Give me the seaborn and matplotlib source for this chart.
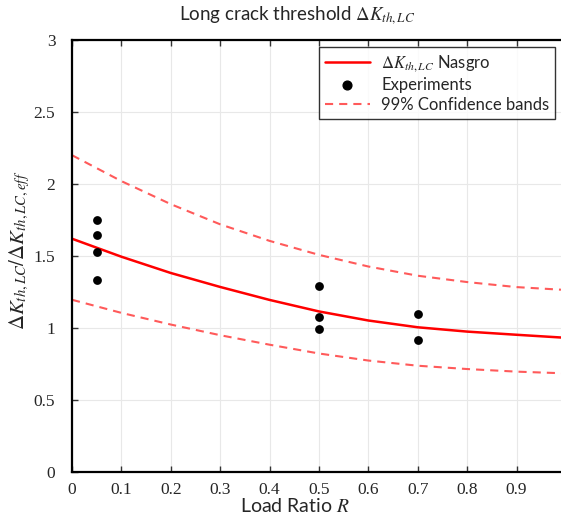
import matplotlib
matplotlib.use("Agg")
import matplotlib.pyplot as plt
from matplotlib.lines import Line2D
import seaborn as sns
import pandas as pd

# ---- data ----
R_curve = [0.0, 0.1, 0.2, 0.3, 0.4, 0.5, 0.6, 0.7, 0.8, 0.9, 0.99]
nasgro = [1.62, 1.495, 1.382, 1.285, 1.195, 1.115, 1.052, 1.005, 0.975, 0.953, 0.934]
upper = [2.20, 2.02, 1.86, 1.72, 1.605, 1.508, 1.427, 1.363, 1.319, 1.284, 1.266]
lower = [1.196, 1.105, 1.024, 0.950, 0.884, 0.823, 0.774, 0.738, 0.715, 0.697, 0.686]

R_exp = [0.05, 0.05, 0.05, 0.05, 0.5, 0.5, 0.5, 0.7, 0.7]
K_exp = [1.75, 1.643, 1.525, 1.33, 1.289, 1.073, 0.992, 1.097, 0.915]

x_ticks = [0, 0.1, 0.2, 0.3, 0.4, 0.5, 0.6, 0.7, 0.8, 0.9]
x_tick_labels = ["0", "0.1", "0.2", "0.3", "0.4", "0.5", "0.6", "0.7", "0.8", "0.9"]
y_ticks = [0, 0.5, 1, 1.5, 2, 2.5, 3]
y_tick_labels = ["0", "0.5", "1", "1.5", "2", "2.5", "3"]

sns.set_theme(style="white")
plt.rcParams["font.family"] = ["Lato", "DejaVu Sans"]
plt.rcParams["mathtext.fontset"] = "stix"

df_curve = pd.DataFrame({"R": R_curve, "nasgro": nasgro, "upper": upper, "lower": lower})
df_exp = pd.DataFrame({"R": R_exp, "K": K_exp})

SOLID = "#ff0000"
DASH = "#ff5a5a"
DASHES = [3.9, 2.9]

fig = plt.figure(figsize=(5.61, 5.18), dpi=100)
ax = fig.add_axes([72 / 561, 1 - 472 / 518, (561 - 72) / 561, (472 - 40) / 518])

sns.lineplot(data=df_curve, x="R", y="nasgro", ax=ax, color=SOLID, lw=1.8)
sns.lineplot(data=df_curve, x="R", y="upper", ax=ax, color=DASH, lw=1.5)
sns.lineplot(data=df_curve, x="R", y="lower", ax=ax, color=DASH, lw=1.5)
for ln in ax.lines[1:]:
    ln.set_dashes(DASHES)
sns.scatterplot(data=df_exp, x="R", y="K", ax=ax, color="black", s=40,
                edgecolor="black", linewidth=0, zorder=5)

ax.set_xlim(0, 0.99)
ax.set_ylim(0, 3)
ax.set_xticks(x_ticks)
ax.set_xticklabels(x_tick_labels, family="Liberation Serif", fontsize=12.5)
ax.set_yticks(y_ticks)
ax.set_yticklabels(y_tick_labels, family="Liberation Serif", fontsize=12.5)
ax.tick_params(axis="both", direction="in", length=4, width=1, color="#333333",
               top=True, bottom=True, left=True, right=False)
ax.tick_params(axis="y", pad=12)
ax.tick_params(axis="x", pad=7)
ax.grid(True, color="#e8e8e8", lw=0.8)
ax.set_axisbelow(True)

for side in ["left", "bottom", "top"]:
    ax.spines[side].set_visible(True)
    ax.spines[side].set_color("black")
    ax.spines[side].set_linewidth(1.6)
ax.spines["right"].set_visible(False)

ax.set_xlabel(r"Load Ratio $R$", fontsize=14)
ax.xaxis.set_label_coords((295 - 72) / 489, -(497 - 472) / 432)
ax.set_ylabel(r"$\Delta K_{th,LC}/\Delta K_{th,LC,eff}$", fontsize=15)
ax.yaxis.set_label_coords(-(72 - 32) / 489, (472 - 250) / 432)
ax.set_title(r"Long crack threshold $\Delta K_{th,LC}$", fontsize=13.5, pad=14,
             x=(297 - 72) / 489)

handles = [
    Line2D([], [], color=SOLID, lw=1.8),
    Line2D([], [], color="black", marker="o", ls="none", markersize=6.3),
    Line2D([], [], color=DASH, lw=1.5, dashes=DASHES),
]
labels = [r"$\Delta K_{th,LC}$ Nasgro", "Experiments", "99% Confidence bands"]
leg = ax.legend(handles, labels, loc="upper right", bbox_to_anchor=(0.988, 0.983),
                frameon=True, fancybox=False, fontsize=12, handlelength=2.7,
                borderpad=0.35, labelspacing=0.2, handletextpad=0.7,
                borderaxespad=0)
leg.get_frame().set_edgecolor("black")
leg.get_frame().set_linewidth(1.0)

fig.savefig("out.png", dpi=100)
